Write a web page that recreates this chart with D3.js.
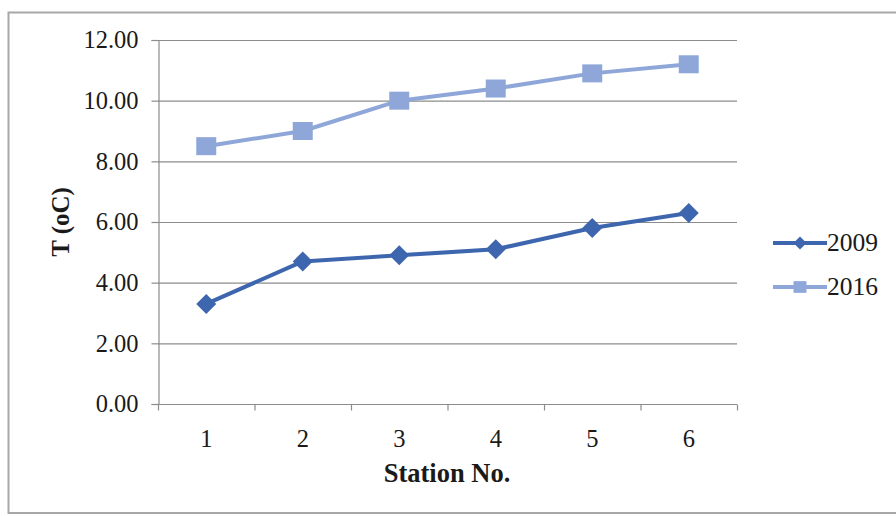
<!DOCTYPE html>
<html>
<head>
<meta charset="utf-8">
<script src="https://cdn.jsdelivr.net/npm/d3@7"></script>
<style>
  html, body { margin: 0; padding: 0; background: #fff; }
  svg { display: block; }
  text { font-family: "Liberation Serif", "Times New Roman", serif; fill: #1a1a1a; }
</style>
</head>
<body>
<svg id="chart" width="896" height="516"></svg>
<script>
// Mean temperature per station
const stations = ["1", "2", "3", "4", "5", "6"];
const values2009 = [3.3, 4.7, 4.9, 5.1, 5.8, 6.3];
const values2016 = [8.5, 9.0, 10.0, 10.4, 10.9, 11.2];
const yTicks = [0, 2, 4, 6, 8, 10, 12];
const seriesNames = ["2009", "2016"];

const series = [
  { name: seriesNames[0], values: values2009, color: "#3d66ae", marker: "diamond" },
  { name: seriesNames[1], values: values2016, color: "#8ea7d8", marker: "square" }
];

const svg = d3.select("#chart");

// Outer frame
svg.append("rect")
  .attr("x", 8.5).attr("y", 12.5)
  .attr("width", 900).attr("height", 500.5)
  .attr("fill", "none").attr("stroke", "#a8a8a8").attr("stroke-width", 2);

const plot = { left: 158, right: 737, top: 40, bottom: 404 };

const x = d3.scaleBand().domain(stations).range([plot.left, plot.right]);
const y = d3.scaleLinear().domain([0, 12]).range([plot.bottom, plot.top]);

// Horizontal gridlines
svg.append("g")
  .selectAll("line")
  .data(yTicks.filter(d => d > 0))
  .join("line")
  .attr("x1", plot.left).attr("x2", plot.right)
  .attr("y1", d => y(d) + 0.5).attr("y2", d => y(d) + 0.5)
  .attr("stroke", "#8c8c8c").attr("stroke-width", 1.2);

// Y axis
const yAxis = svg.append("g")
  .attr("transform", `translate(${plot.left + 0.5},0)`)
  .call(d3.axisLeft(y).tickValues(yTicks).tickFormat(d3.format(".2f")).tickSize(7).tickPadding(13));
yAxis.select(".domain").attr("stroke", "#8c8c8c").attr("stroke-width", 1.2);
yAxis.selectAll(".tick line").attr("stroke", "#8c8c8c").attr("stroke-width", 1.2);
yAxis.selectAll(".tick text")
  .style("font-size", "24.5px")
  .style("font-family", "'Liberation Serif', serif")
  .attr("fill", "#1a1a1a");

// X axis with ticks at category boundaries
const xAxisG = svg.append("g").attr("transform", `translate(0,${plot.bottom + 0.5})`);
xAxisG.append("line")
  .attr("x1", plot.left).attr("x2", plot.right)
  .attr("stroke", "#8c8c8c").attr("stroke-width", 1.2);
const boundaries = stations.map(s => x(s)).concat([x(stations[stations.length - 1]) + x.bandwidth()]);
xAxisG.selectAll("line.tk")
  .data(boundaries)
  .join("line")
  .attr("class", "tk")
  .attr("x1", d => d + 0.5).attr("x2", d => d + 0.5)
  .attr("y1", 0).attr("y2", 6)
  .attr("stroke", "#8c8c8c").attr("stroke-width", 1.2);
xAxisG.selectAll("text")
  .data(stations)
  .join("text")
  .attr("x", d => x(d) + x.bandwidth() / 2)
  .attr("y", 42)
  .attr("text-anchor", "middle")
  .style("font-size", "24.5px")
  .text(d => d);

// Axis titles
svg.append("text")
  .attr("x", 447).attr("y", 482)
  .attr("text-anchor", "middle")
  .style("font-size", "26.5px").attr("font-weight", "bold")
  .text("Station No.");

svg.append("text")
  .attr("transform", "translate(69,222) rotate(-90)")
  .attr("text-anchor", "middle")
  .style("font-size", "25px").attr("font-weight", "bold")
  .text("T (oC)");

// Series lines and markers
const line = d3.line()
  .x((d, i) => x(stations[i]) + x.bandwidth() / 2)
  .y(d => y(d));

const diamondPath = "M0,-10L10,0L0,10L-10,0Z";
const squarePath = "M-10,-9L10,-9L10,9L-10,9Z";

series.forEach(s => {
  const g = svg.append("g");
  g.append("path")
    .datum(s.values)
    .attr("d", line)
    .attr("fill", "none")
    .attr("stroke", s.color)
    .attr("stroke-width", 4)
    .attr("stroke-linejoin", "round");
  g.selectAll("path.m")
    .data(s.values)
    .join("path")
    .attr("class", "m")
    .attr("transform", (d, i) => `translate(${x(stations[i]) + x.bandwidth() / 2},${y(d)})`)
    .attr("d", s.marker === "diamond" ? diamondPath : squarePath)
    .attr("fill", s.color);
});

// Legend
const legend = svg.append("g");
series.forEach((s, i) => {
  const ly = 243 + i * 44;
  legend.append("line")
    .attr("x1", 773).attr("x2", 827)
    .attr("y1", ly).attr("y2", ly)
    .attr("stroke", s.color).attr("stroke-width", 4);
  legend.append("path")
    .attr("transform", `translate(800,${ly}) scale(0.65)`)
    .attr("d", s.marker === "diamond" ? diamondPath : squarePath)
    .attr("fill", s.color);
  legend.append("text")
    .attr("x", 827).attr("y", ly + 8)
    .style("font-size", "25.5px")
    .text(s.name);
});
</script>
</body>
</html>
